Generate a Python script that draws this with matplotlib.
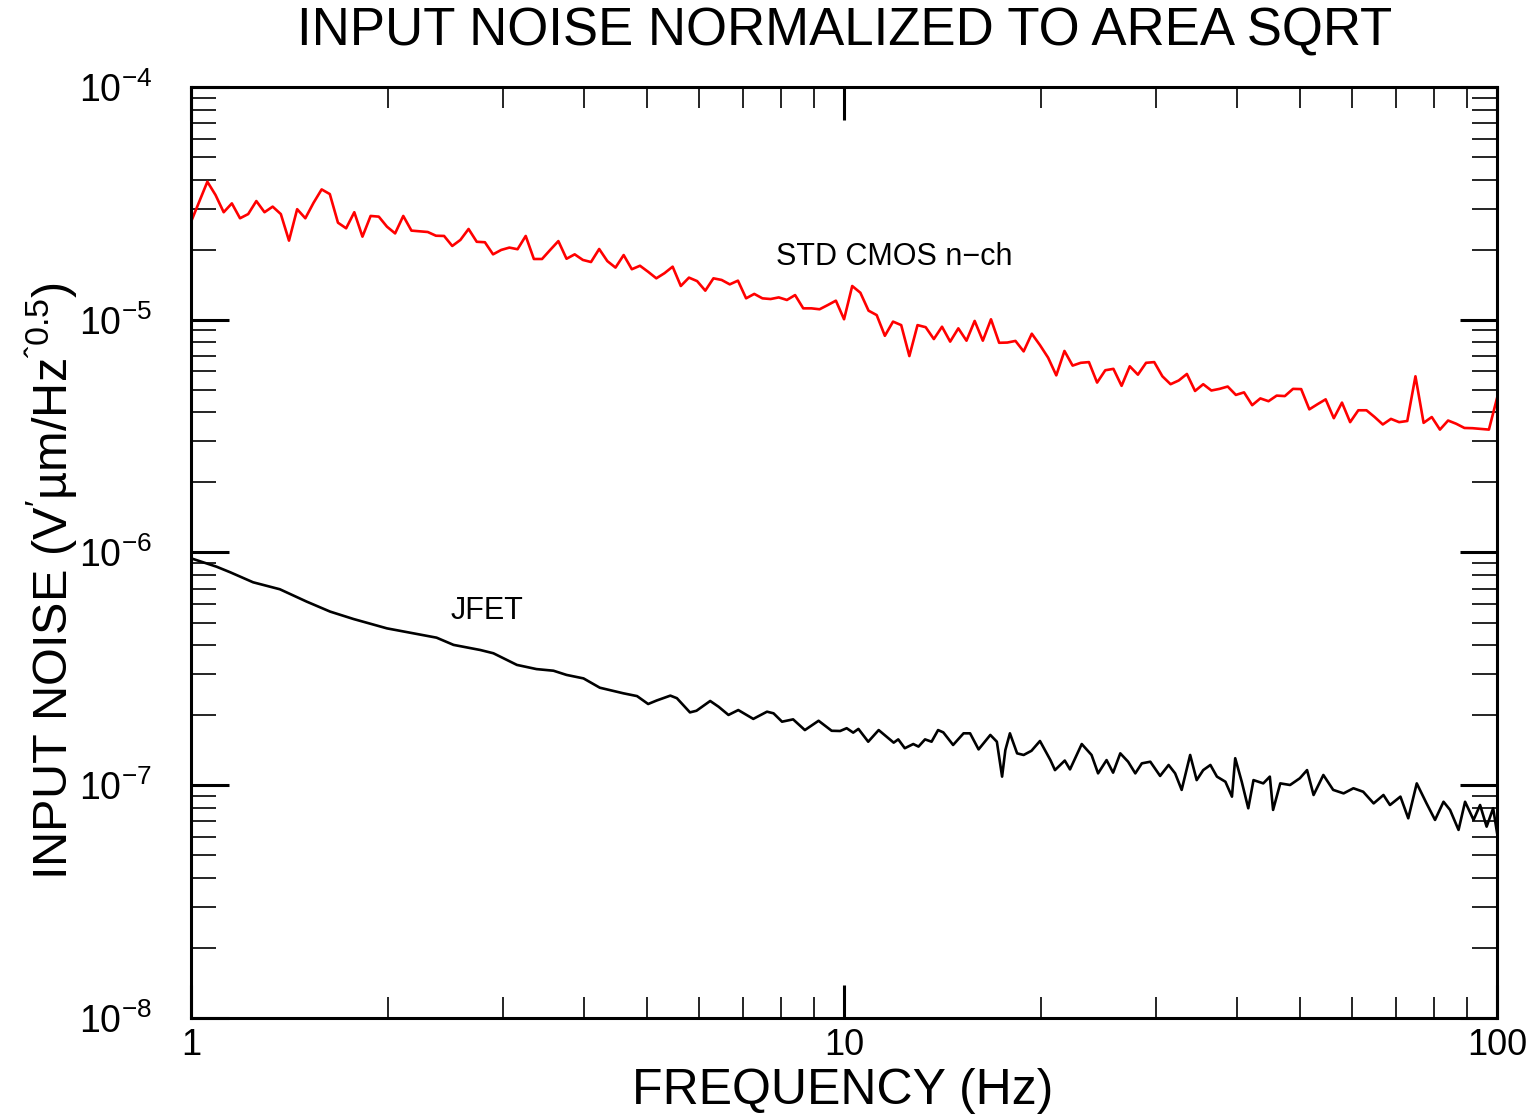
import numpy as np
import matplotlib
matplotlib.use("Agg")
import matplotlib.pyplot as plt
from matplotlib.ticker import LogLocator, NullFormatter

plt.rcParams['font.family'] = ['Liberation Sans', 'DejaVu Sans']
plt.rcParams['mathtext.fontset'] = 'custom'
plt.rcParams['mathtext.rm'] = 'Liberation Sans'
plt.rcParams['mathtext.it'] = 'Liberation Sans:italic'
plt.rcParams['mathtext.bf'] = 'Liberation Sans:bold'

# STD CMOS n-ch: log10 of input noise, 80 points per decade from 1 Hz to 100 Hz
cmos_freq = np.logspace(0, 2, 161)
cmos_log_n = [
    -4.579, -4.493, -4.407, -4.464, -4.538, -4.500, -4.564, -4.546, -4.490, -4.538,
    -4.514, -4.546, -4.660, -4.525, -4.564, -4.498, -4.440, -4.460, -4.583, -4.607,
    -4.538, -4.643, -4.554, -4.557, -4.600, -4.629, -4.554, -4.617, -4.620, -4.623,
    -4.639, -4.640, -4.683, -4.657, -4.610, -4.665, -4.667, -4.719, -4.700, -4.690,
    -4.697, -4.640, -4.739, -4.739, -4.700, -4.662, -4.738, -4.719, -4.743, -4.752,
    -4.696, -4.748, -4.776, -4.722, -4.783, -4.768, -4.794, -4.822, -4.800, -4.772,
    -4.855, -4.819, -4.834, -4.875, -4.822, -4.829, -4.848, -4.832, -4.908, -4.889,
    -4.908, -4.911, -4.904, -4.915, -4.894, -4.951, -4.951, -4.955, -4.937, -4.918,
    -4.998, -4.855, -4.884, -4.961, -4.980, -5.069, -5.008, -5.023, -5.156, -5.023,
    -5.032, -5.083, -5.030, -5.094, -5.037, -5.090, -5.005, -5.090, -4.998, -5.099,
    -5.098, -5.091, -5.136, -5.060, -5.109, -5.163, -5.239, -5.134, -5.197, -5.185,
    -5.182, -5.270, -5.217, -5.211, -5.284, -5.200, -5.236, -5.185, -5.182, -5.243,
    -5.277, -5.261, -5.233, -5.306, -5.277, -5.304, -5.297, -5.287, -5.323, -5.312,
    -5.367, -5.338, -5.350, -5.326, -5.328, -5.297, -5.298, -5.385, -5.363, -5.342,
    -5.423, -5.356, -5.440, -5.389, -5.389, -5.418, -5.450, -5.426, -5.440, -5.435,
    -5.243, -5.443, -5.418, -5.472, -5.433, -5.447, -5.465, -5.466, -5.469, -5.472,
    -5.336,
]

# JFET: log10 frequency / log10 input noise
jfet_log_f = [
    0.000, 0.039, 0.060, 0.095, 0.136, 0.177, 0.213, 0.249, 0.300, 0.340,
    0.376, 0.402, 0.443, 0.463, 0.499, 0.529, 0.555, 0.575, 0.601, 0.626,
    0.662, 0.683, 0.700, 0.713, 0.734, 0.744, 0.764, 0.774, 0.795, 0.808,
    0.823, 0.838, 0.861, 0.882, 0.892, 0.905, 0.922, 0.940, 0.961, 0.981,
    0.994, 1.004, 1.014, 1.022, 1.037, 1.053, 1.068, 1.076, 1.083, 1.093,
    1.106, 1.114, 1.124, 1.134, 1.144, 1.152, 1.167, 1.183, 1.193, 1.206,
    1.224, 1.234, 1.242, 1.247, 1.254, 1.265, 1.275, 1.287, 1.300, 1.316,
    1.323, 1.338, 1.346, 1.364, 1.379, 1.389, 1.402, 1.412, 1.423, 1.435,
    1.446, 1.456, 1.469, 1.484, 1.497, 1.507, 1.517, 1.530, 1.540, 1.550,
    1.561, 1.571, 1.584, 1.594, 1.599, 1.609, 1.619, 1.627, 1.642, 1.652,
    1.657, 1.668, 1.683, 1.698, 1.709, 1.719, 1.734, 1.749, 1.765, 1.780,
    1.795, 1.811, 1.826, 1.836, 1.852, 1.864, 1.877, 1.892, 1.905, 1.918,
    1.928, 1.941, 1.951, 1.964, 1.974, 1.984, 1.994, 2.000,
]
jfet_log_n = [
    -6.025, -6.061, -6.085, -6.128, -6.158, -6.211, -6.254, -6.286, -6.326, -6.347,
    -6.366, -6.397, -6.419, -6.433, -6.483, -6.501, -6.508, -6.526, -6.541, -6.581,
    -6.605, -6.617, -6.651, -6.636, -6.615, -6.626, -6.687, -6.680, -6.638, -6.663,
    -6.698, -6.677, -6.715, -6.684, -6.691, -6.727, -6.717, -6.763, -6.723, -6.766,
    -6.767, -6.755, -6.774, -6.758, -6.813, -6.763, -6.798, -6.817, -6.803, -6.841,
    -6.823, -6.834, -6.803, -6.813, -6.763, -6.773, -6.827, -6.777, -6.777, -6.846,
    -6.784, -6.813, -6.963, -6.849, -6.777, -6.863, -6.870, -6.852, -6.810, -6.892,
    -6.935, -6.894, -6.932, -6.823, -6.870, -6.949, -6.892, -6.946, -6.863, -6.899,
    -6.949, -6.906, -6.899, -6.960, -6.913, -6.949, -7.020, -6.870, -6.978, -6.935,
    -6.913, -6.963, -6.985, -7.049, -6.884, -6.985, -7.099, -6.978, -6.992, -6.963,
    -7.106, -6.992, -6.999, -6.970, -6.935, -7.042, -6.956, -7.020, -7.035, -7.013,
    -7.028, -7.078, -7.042, -7.085, -7.049, -7.142, -6.992, -7.078, -7.149, -7.071,
    -7.106, -7.192, -7.071, -7.149, -7.085, -7.178, -7.099, -7.205,
]

fig = plt.figure(figsize=(15.32, 11.14), dpi=100)
ax = fig.add_axes([0.1247, 0.0862, 0.8525, 0.8357])

ax.plot(cmos_freq, 10 ** np.array(cmos_log_n), color='#ff0000', lw=1.9)
ax.plot(10 ** np.array(jfet_log_f), 10 ** np.array(jfet_log_n), color='black', lw=1.9)

ax.set_xscale('log')
ax.set_yscale('log')
ax.set_xlim(1, 100)
ax.set_ylim(1e-8, 1e-4)

ax.yaxis.set_major_locator(LogLocator(base=10, numticks=10))
ax.xaxis.set_minor_locator(LogLocator(base=10, subs=np.arange(2, 10), numticks=20))
ax.yaxis.set_minor_locator(LogLocator(base=10, subs=np.arange(2, 10), numticks=20))
ax.xaxis.set_minor_formatter(NullFormatter())
ax.yaxis.set_minor_formatter(NullFormatter())
ax.set_xticks([1, 10, 100])
ax.set_xticklabels(['1', '10', '100'])

for s in ax.spines.values():
    s.set_linewidth(2.2)
ax.tick_params(which='both', direction='in', top=True, right=True)
ax.tick_params(axis='x', which='major', length=24, width=2.2, labelsize=26, pad=7)
ax.tick_params(axis='x', which='minor', length=15, width=1.2)
ax.tick_params(axis='y', which='major', length=27, width=2.2, labelsize=27, pad=28)
ax.tick_params(axis='y', which='minor', length=18, width=1.2)

ax.text(7.87, 1.86e-5, 'STD CMOS n\u2212ch', fontsize=22, va='center', ha='left')
ax.text(2.50, 5.61e-7, 'JFET', fontsize=22, va='center', ha='left')

fig.text(845 / 1532, 1 - 31 / 1114, 'INPUT NOISE NORMALIZED TO AREA SQRT',
         fontsize=38, ha='center', va='center')
fig.text(843 / 1532, 1 - 1104 / 1114, 'FREQUENCY (Hz)',
         fontsize=36, ha='center', va='baseline')
fig.text(52 / 1532, 1 - 581 / 1114,
         'INPUT NOISE (V$^{\\prime}$\u00b5m/Hz$^{\\mathrm{\u02c60.5}}$)',
         fontsize=35, ha='center', va='center', rotation=90)

fig.savefig('out.png', dpi=100)
